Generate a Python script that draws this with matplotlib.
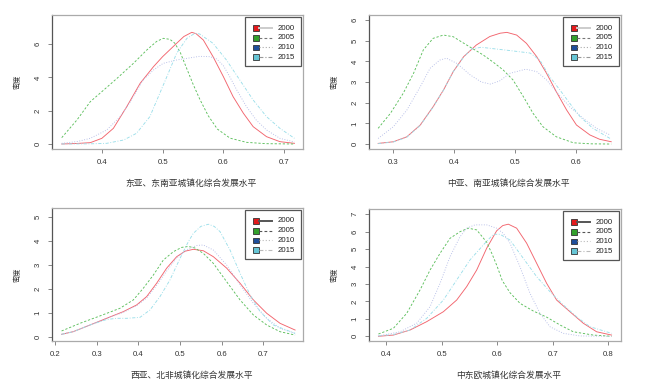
import numpy as np
import matplotlib
matplotlib.use('Agg')
import matplotlib.pyplot as plt
import matplotlib.patches as mpatches

plt.rcParams['font.family'] = ['Liberation Sans', 'Noto Sans CJK SC', 'DejaVu Sans']

# Data

YEARS = ['2000', '2005', '2010', '2015']
XLABELS = ['东亚、东南亚城镇化综合发展水平', '中亚、南亚城镇化综合发展水平',
           '西亚、北非城镇化综合发展水平', '中东欧城镇化综合发展水平']
YLABEL = '密度'

# panel 1: East / Southeast Asia
EA_X_2000 = [0.334, 0.358, 0.381, 0.400, 0.419, 0.441, 0.463, 0.485, 0.500, 0.523, 0.535, 0.548,
             0.555, 0.567, 0.583, 0.600, 0.616, 0.633, 0.649, 0.671, 0.693, 0.717]
EA_Y_2000 = [0.00, 0.03, 0.08, 0.34, 0.94, 2.24, 3.64, 4.64, 5.24, 6.04, 6.45, 6.70,
             6.62, 6.24, 5.24, 4.04, 2.84, 1.84, 1.04, 0.44, 0.14, 0.04]
EA_X_2005 = [0.334, 0.359, 0.381, 0.400, 0.425, 0.452, 0.474, 0.490, 0.501, 0.512, 0.520, 0.529,
             0.540, 0.550, 0.561, 0.575, 0.590, 0.611, 0.638, 0.670, 0.717]
EA_Y_2005 = [0.38, 1.44, 2.54, 3.14, 3.94, 4.84, 5.64, 6.15, 6.34, 6.28, 6.05, 5.50,
             4.50, 3.60, 2.70, 1.70, 0.90, 0.35, 0.10, 0.02, 0.00]
EA_X_2010 = [0.334, 0.360, 0.381, 0.408, 0.430, 0.447, 0.468, 0.485, 0.501, 0.523, 0.540, 0.561,
             0.578, 0.589, 0.600, 0.611, 0.622, 0.638, 0.654, 0.671, 0.693, 0.717]
EA_Y_2010 = [0.04, 0.15, 0.34, 0.84, 1.64, 2.54, 3.84, 4.44, 4.84, 5.04, 5.14, 5.26,
             5.24, 5.10, 4.70, 4.00, 3.24, 2.24, 1.44, 0.84, 0.34, 0.12]
EA_X_2015 = [0.334, 0.380, 0.408, 0.436, 0.457, 0.479, 0.493, 0.507, 0.523, 0.540, 0.553, 0.561,
             0.583, 0.605, 0.627, 0.649, 0.671, 0.693, 0.717]
EA_Y_2015 = [0.00, 0.01, 0.04, 0.24, 0.64, 1.64, 2.84, 4.04, 5.44, 6.34, 6.64, 6.60,
             6.04, 5.04, 3.84, 2.64, 1.64, 0.94, 0.34]

# panel 2: Central / South Asia
CA_X_2000 = [0.276, 0.301, 0.323, 0.345, 0.366, 0.383, 0.399, 0.416, 0.437, 0.459, 0.476, 0.487,
             0.503, 0.519, 0.536, 0.552, 0.568, 0.585, 0.601, 0.623, 0.639, 0.658]
CA_Y_2000 = [0.03, 0.11, 0.35, 0.92, 1.80, 2.61, 3.50, 4.22, 4.79, 5.20, 5.36, 5.40,
             5.27, 4.87, 4.22, 3.42, 2.53, 1.64, 0.92, 0.44, 0.23, 0.11]
CA_X_2005 = [0.276, 0.296, 0.317, 0.334, 0.350, 0.366, 0.383, 0.399, 0.421, 0.448, 0.465, 0.481,
             0.497, 0.514, 0.530, 0.546, 0.568, 0.596, 0.625, 0.658]
CA_Y_2005 = [0.76, 1.48, 2.45, 3.42, 4.55, 5.11, 5.27, 5.19, 4.79, 4.31, 3.95, 3.58,
             3.10, 2.29, 1.48, 0.84, 0.35, 0.06, 0.01, 0.00]
CA_X_2010 = [0.276, 0.301, 0.323, 0.345, 0.361, 0.377, 0.388, 0.405, 0.427, 0.445, 0.460, 0.475,
             0.492, 0.518, 0.536, 0.552, 0.568, 0.590, 0.612, 0.634, 0.656]
CA_Y_2010 = [0.27, 0.84, 1.64, 2.77, 3.66, 4.06, 4.15, 3.90, 3.34, 3.00, 2.90, 3.05,
             3.42, 3.62, 3.50, 3.10, 2.53, 1.80, 1.24, 0.76, 0.44]
CA_X_2015 = [0.276, 0.301, 0.323, 0.345, 0.366, 0.383, 0.399, 0.416, 0.429, 0.445, 0.462, 0.492,
             0.525, 0.541, 0.557, 0.574, 0.590, 0.607, 0.628, 0.656]
CA_Y_2015 = [0.02, 0.10, 0.33, 0.90, 1.78, 2.60, 3.50, 4.20, 4.60, 4.68, 4.62, 4.52,
             4.40, 4.06, 3.26, 2.61, 1.97, 1.32, 0.76, 0.27]

# panel 3: West Asia / North Africa
WA_X_2000 = [0.216, 0.244, 0.284, 0.324, 0.364, 0.396, 0.420, 0.444, 0.468, 0.492, 0.512, 0.532,
             0.556, 0.580, 0.612, 0.644, 0.676, 0.708, 0.740, 0.776]
WA_Y_2000 = [0.10, 0.21, 0.49, 0.77, 1.05, 1.33, 1.68, 2.24, 2.87, 3.35, 3.58, 3.66,
             3.60, 3.35, 2.87, 2.24, 1.54, 0.98, 0.56, 0.28]
WA_X_2005 = [0.216, 0.260, 0.308, 0.356, 0.388, 0.412, 0.436, 0.460, 0.484, 0.504, 0.520, 0.535,
             0.556, 0.580, 0.612, 0.644, 0.676, 0.708, 0.740, 0.776]
WA_Y_2005 = [0.24, 0.56, 0.87, 1.19, 1.54, 2.03, 2.58, 3.21, 3.56, 3.74, 3.78, 3.72,
             3.49, 3.07, 2.30, 1.54, 0.91, 0.49, 0.21, 0.07]
WA_X_2010 = [0.216, 0.244, 0.284, 0.324, 0.364, 0.396, 0.420, 0.444, 0.468, 0.492, 0.520, 0.540,
             0.556, 0.580, 0.612, 0.644, 0.676, 0.708, 0.740, 0.776]
WA_Y_2010 = [0.10, 0.21, 0.49, 0.77, 1.02, 1.30, 1.62, 2.15, 2.75, 3.30, 3.68, 3.82,
             3.84, 3.63, 3.00, 2.17, 1.40, 0.77, 0.35, 0.14]
WA_X_2015 = [0.216, 0.244, 0.284, 0.324, 0.348, 0.372, 0.404, 0.428, 0.452, 0.476, 0.500, 0.520,
             0.532, 0.550, 0.568, 0.582, 0.596, 0.620, 0.644, 0.668, 0.692, 0.724, 0.776]
WA_Y_2015 = [0.10, 0.21, 0.49, 0.72, 0.77, 0.77, 0.81, 1.12, 1.68, 2.38, 3.28, 3.98,
             4.33, 4.62, 4.71, 4.62, 4.40, 3.63, 2.66, 1.75, 1.05, 0.49, 0.14]

# panel 4: Central / Eastern Europe
CE_X_2000 = [0.386, 0.413, 0.443, 0.473, 0.503, 0.527, 0.545, 0.563, 0.581, 0.599, 0.610, 0.620,
             0.635, 0.653, 0.671, 0.689, 0.707, 0.731, 0.755, 0.779, 0.806]
CE_Y_2000 = [0.00, 0.07, 0.36, 0.84, 1.41, 2.08, 2.85, 3.80, 5.05, 6.05, 6.35, 6.43,
             6.20, 5.34, 4.19, 3.04, 2.08, 1.41, 0.75, 0.26, 0.07]
CE_X_2005 = [0.386, 0.413, 0.437, 0.461, 0.479, 0.497, 0.515, 0.533, 0.548, 0.563, 0.581, 0.591,
             0.600, 0.609, 0.623, 0.641, 0.665, 0.689, 0.713, 0.737, 0.773, 0.806]
CE_Y_2005 = [0.13, 0.46, 1.32, 2.66, 3.80, 4.76, 5.62, 6.00, 6.20, 6.10, 5.40, 4.70,
             4.00, 3.20, 2.50, 1.89, 1.45, 1.10, 0.65, 0.26, 0.07, 0.00]
CE_X_2010 = [0.386, 0.425, 0.455, 0.479, 0.497, 0.515, 0.533, 0.545, 0.560, 0.581, 0.599, 0.611,
             0.623, 0.641, 0.659, 0.677, 0.695, 0.719, 0.749, 0.806]
CE_Y_2010 = [0.02, 0.26, 0.75, 1.70, 3.04, 4.57, 5.71, 6.20, 6.39, 6.39, 6.20, 5.90,
             5.34, 3.99, 2.47, 1.32, 0.55, 0.17, 0.02, 0.00]
CE_X_2015 = [0.386, 0.413, 0.443, 0.473, 0.503, 0.527, 0.551, 0.575, 0.593, 0.605, 0.623, 0.647,
             0.671, 0.695, 0.719, 0.743, 0.767, 0.806]
CE_Y_2015 = [0.02, 0.10, 0.36, 1.03, 2.08, 3.23, 4.38, 5.24, 5.85, 5.85, 5.52, 4.47,
             3.42, 2.56, 1.80, 1.12, 0.55, 0.17]

X_TICKS = [[0.4, 0.5, 0.6, 0.7], [0.3, 0.4, 0.5, 0.6],
           [0.2, 0.3, 0.4, 0.5, 0.6, 0.7], [0.4, 0.5, 0.6, 0.7, 0.8]]
Y_TICKS = [[0, 2, 4, 6], [0, 1, 2, 3, 4, 5, 6], [0, 1, 2, 3, 4, 5], [0, 1, 2, 3, 4, 5, 6, 7]]

# Styles

LINE_COLORS = ['#f2646d', '#5cbf5c', '#b2bae6', '#9cdfea']
LINE_STYLES = ['-', (0, (2.5, 2)), (0, (1, 1.8)), (0, (3.5, 1.8, 1, 1.8))]
BOX_COLORS  = ['#e31a1c', '#33a02c', '#1f4e9a', '#66c5d5']
KEY_COLORS  = [['#cccccc', '#777777', '#aaaaaa', '#999999'],
               ['#cccccc', '#777777', '#aaaaaa', '#999999'],
               ['#555555', '#555555', '#bbbbbb', '#bbbbbb'],
               ['#555555', '#555555', '#bbbbbb', '#bbbbbb']]

W, H = 650, 391
# axes boxes in pixels: left, top, right, bottom
AX_PX = [(52, 15, 303, 149), (369, 15, 621, 149), (52, 208, 303, 341), (369, 209, 621, 341)]
XLIM = [(0.318, 0.731), (0.261, 0.674), (0.193, 0.795), (0.369, 0.823)]
YLIM = [(-0.30, 7.74), (-0.24, 6.24), (-0.18, 5.39), (-0.27, 7.30)]


def draw_legend(ax, ax_w, ax_h, key_cols):
    # legend box geometry in pixels, relative to the axes top-right corner
    lw_px, lh_px = 56, 49
    x0 = 1 - (lw_px + 2) / ax_w
    y1 = 1 - 2 / ax_h
    fx = lambda px: x0 + px / ax_w
    fy = lambda py: y1 - py / ax_h
    ax.add_patch(mpatches.Rectangle((x0, y1 - lh_px / ax_h), lw_px / ax_w, lh_px / ax_h,
                                    transform=ax.transAxes, facecolor='white',
                                    edgecolor='#555555', linewidth=0.9, zorder=9))
    for i, year in enumerate(YEARS):
        yc = 11 + i * 9.7
        ax.add_patch(mpatches.Rectangle((fx(8), fy(yc + 2.8)), 5.5 / ax_w, 5.5 / ax_h,
                                        transform=ax.transAxes, facecolor=BOX_COLORS[i],
                                        edgecolor='#333333', linewidth=0.6, zorder=10))
        ax.plot([fx(13.5), fx(27)], [fy(yc), fy(yc)], transform=ax.transAxes,
                color=key_cols[i], linestyle=LINE_STYLES[i],
                linewidth=1.4 if i == 0 else 0.8, zorder=10)
        ax.text(fx(33), fy(yc), year, transform=ax.transAxes, fontsize=5.6,
                color='#222222', ha='left', va='center', zorder=11)


def main():
    series = [
        [(EA_X_2000, EA_Y_2000), (EA_X_2005, EA_Y_2005), (EA_X_2010, EA_Y_2010), (EA_X_2015, EA_Y_2015)],
        [(CA_X_2000, CA_Y_2000), (CA_X_2005, CA_Y_2005), (CA_X_2010, CA_Y_2010), (CA_X_2015, CA_Y_2015)],
        [(WA_X_2000, WA_Y_2000), (WA_X_2005, WA_Y_2005), (WA_X_2010, WA_Y_2010), (WA_X_2015, WA_Y_2015)],
        [(CE_X_2000, CE_Y_2000), (CE_X_2005, CE_Y_2005), (CE_X_2010, CE_Y_2010), (CE_X_2015, CE_Y_2015)],
    ]

    fig = plt.figure(figsize=(W / 100, H / 100), dpi=100)
    fig.patch.set_facecolor('white')

    for k in range(4):
        l, t, r, b = AX_PX[k]
        ax = fig.add_axes([l / W, 1 - b / H, (r - l) / W, (b - t) / H])
        ax_w, ax_h = r - l, b - t

        for i, (xs, ys) in enumerate(series[k]):
            ax.plot(xs, ys, color=LINE_COLORS[i], linestyle=LINE_STYLES[i],
                    linewidth=0.65, zorder=3, solid_joinstyle='round')

        ax.set_xlim(*XLIM[k])
        ax.set_ylim(*YLIM[k])
        ax.set_xticks(X_TICKS[k])
        ax.set_yticks(Y_TICKS[k])
        ax.set_xticklabels([f'{v:g}' for v in X_TICKS[k]])
        ax.set_yticklabels([f'{v:g}' for v in Y_TICKS[k]])
        ax.tick_params(direction='out', length=3, width=0.7, color='#888888',
                       labelsize=5.6, labelcolor='#333333', pad=4.5)
        for lbl in ax.get_yticklabels():
            lbl.set_rotation(90)
            lbl.set_va('center')

        for side in ['top', 'right', 'bottom']:
            ax.spines[side].set_color('#aaaaaa')
            ax.spines[side].set_linewidth(0.9)
        ax.spines['left'].set_color('#555555')
        ax.spines['left'].set_linewidth(0.9)

        ax.text(0.555, -34 / ax_h, XLABELS[k], transform=ax.transAxes, fontsize=6.3,
                color='#333333', ha='center', va='center')
        ax.text(-34 / ax_w, 0.5, YLABEL, transform=ax.transAxes, fontsize=5.2,
                color='#333333', ha='center', va='center', rotation=90)

        draw_legend(ax, ax_w, ax_h, KEY_COLORS[k])

    fig.savefig('out.png', dpi=100, facecolor='white')
    plt.close(fig)


if __name__ == '__main__':
    main()
